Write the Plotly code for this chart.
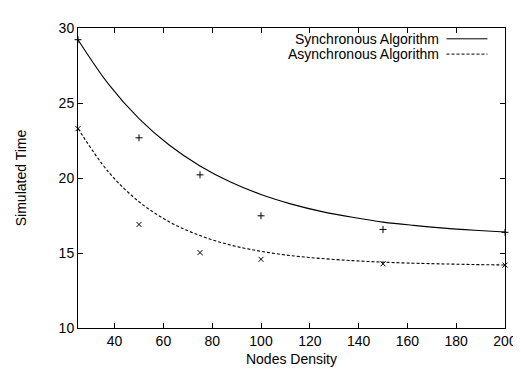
import plotly.graph_objects as go

# measured points
density = [25, 50, 75, 100, 150, 200]
sync_time = [29.22, 22.68, 20.21, 17.48, 16.57, 16.38]
async_time = [23.29, 16.90, 15.03, 14.58, 14.28, 14.19]

# fitted curves
curve_x = [25, 37.5, 50, 62.5, 75, 87.5, 100, 112.5, 125, 137.5, 150, 162.5, 175, 187.5, 200]
sync_curve = [29.22, 26.26, 23.96, 22.18, 20.80, 19.73, 18.90, 18.26, 17.76, 17.38, 17.06, 16.84, 16.66, 16.52, 16.40]
async_curve = [23.30, 20.40, 18.42, 17.07, 16.16, 15.53, 15.11, 14.82, 14.63, 14.49, 14.39, 14.32, 14.27, 14.23, 14.20]

x_ticks = [40, 60, 80, 100, 120, 140, 160, 180, 200]
y_ticks = [10, 15, 20, 25, 30]

legend_names = ["Synchronous Algorithm", "Asynchronous Algorithm"]

FONT = "Liberation Sans, Arial, Helvetica, sans-serif"

fig = go.Figure()
fig.add_trace(go.Scatter(x=curve_x, y=sync_curve, mode="lines",
                         line=dict(color="black", width=1.1, shape="spline"), showlegend=False))
fig.add_trace(go.Scatter(x=curve_x, y=async_curve, mode="lines",
                         line=dict(color="black", width=1.1, shape="spline", dash="3px,2px"), showlegend=False))
fig.add_trace(go.Scatter(x=density, y=sync_time, mode="markers", cliponaxis=False,
                         marker=dict(symbol="cross-thin", size=5, line=dict(color="black", width=1)), showlegend=False))
fig.add_trace(go.Scatter(x=density, y=async_time, mode="markers", cliponaxis=False,
                         marker=dict(symbol="x-thin", size=5, line=dict(color="black", width=1)), showlegend=False))

# legend drawn gnuplot-style: text right-aligned, sample line on the right
legend_y = [0.964, 0.913]
dashes = ["solid", "3px,2px"]
for name, ly, d in zip(legend_names, legend_y, dashes):
    fig.add_annotation(x=0.851, y=ly, xref="paper", yref="paper", text=name, showarrow=False,
                       xanchor="right", yanchor="middle", font=dict(family=FONT, size=14, color="black"))
    fig.add_shape(type="line", xref="paper", yref="paper", x0=0.863, x1=0.959, y0=ly, y1=ly,
                  line=dict(color="black", width=1, dash=d))

axis_common = dict(showline=True, linecolor="black", linewidth=1, mirror="ticks", ticks="inside",
                   ticklen=5, tickcolor="black", showgrid=False, zeroline=False,
                   tickfont=dict(family=FONT, size=14, color="black"))

fig.update_xaxes(range=[25, 200], tickvals=x_ticks, ticktext=[str(v) for v in x_ticks],
                 title=dict(text="Nodes Density", font=dict(family=FONT, size=14, color="black"), standoff=6),
                 **axis_common)
fig.update_yaxes(range=[10, 30], tickvals=y_ticks, ticktext=[str(v) for v in y_ticks],
                 title=dict(text="Simulated Time", font=dict(family=FONT, size=14, color="black"), standoff=28),
                 **axis_common)

fig.update_layout(width=521, height=369, margin=dict(l=70, r=13, t=14, b=47),
                  plot_bgcolor="white", paper_bgcolor="white", showlegend=False)

fig.write_html("out.html")
